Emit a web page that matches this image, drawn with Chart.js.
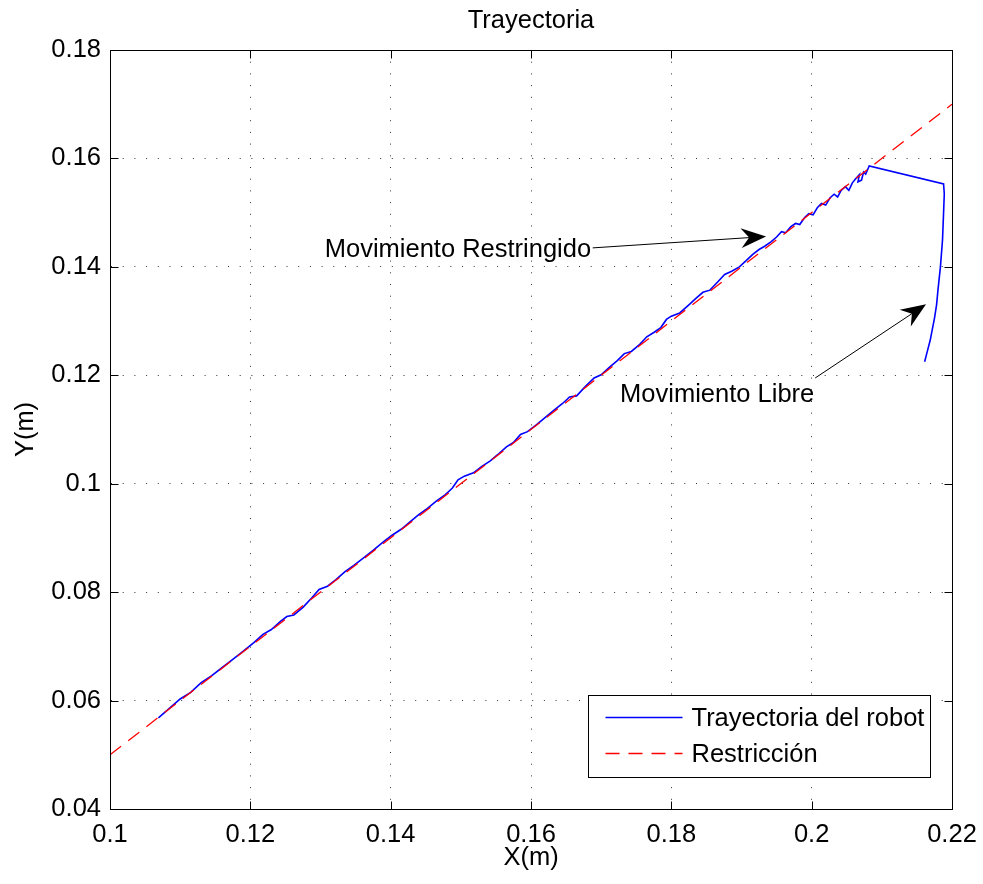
<!DOCTYPE html>
<html>
<head>
<meta charset="utf-8">
<script src="https://cdn.jsdelivr.net/npm/chart.js@4/dist/chart.umd.min.js"></script>
<style>
  html, body { margin: 0; padding: 0; background: #fff; }
  #wrap { width: 983px; height: 884px; }
</style>
</head>
<body>
<div id="wrap"><canvas id="c" width="983" height="884"></canvas></div>
<script>
// Trayectoria del robot
const robotX = [
  0.1069, 0.1085, 0.1100, 0.1115, 0.1130, 0.1145, 0.1160, 0.1175, 0.1190, 0.1205,
  0.1218, 0.1230, 0.1243, 0.1252, 0.1262, 0.1275, 0.1288, 0.1298, 0.1310, 0.1322,
  0.1335, 0.1348, 0.1360, 0.1375, 0.1390, 0.1402, 0.1415, 0.1428, 0.1440, 0.1452,
  0.1465, 0.1478, 0.1488, 0.1496, 0.1505, 0.1518, 0.1530, 0.1542, 0.1552, 0.1565,
  0.1575, 0.1585, 0.1595, 0.1608, 0.1620, 0.1632, 0.1645, 0.1655, 0.1665, 0.1678,
  0.1690, 0.1700, 0.1712, 0.1723, 0.1733, 0.1743, 0.1755, 0.1765, 0.1775, 0.1785,
  0.1793, 0.1800, 0.1812, 0.1825, 0.1835, 0.1845, 0.1855, 0.1866, 0.1876, 0.1886,
  0.1897, 0.1907, 0.1916, 0.1925, 0.1933, 0.1942, 0.1950, 0.1957, 0.1963, 0.1970,
  0.1977, 0.1983, 0.1990, 0.1996, 0.2002, 0.2008, 0.2014, 0.2020, 0.2026, 0.2032,
  0.2037, 0.2042, 0.2048, 0.2053, 0.2058, 0.2063, 0.2068, 0.2066, 0.2071, 0.2074,
  0.2077, 0.2080, 0.2082,
  0.2188, 0.2189, 0.2188, 0.21865, 0.21835, 0.2180, 0.2178, 0.2175, 0.2172, 0.2169, 0.2165, 0.2161
];
const robotY = [
  0.0568, 0.0586, 0.0603, 0.0615, 0.0633, 0.0646, 0.0661, 0.0676, 0.0691, 0.0707,
  0.0722, 0.0731, 0.0746, 0.0755, 0.0758, 0.0772, 0.0790, 0.0805, 0.0811, 0.0823,
  0.0838, 0.0850, 0.0862, 0.0877, 0.0893, 0.0905, 0.0916, 0.0930, 0.0943, 0.0954,
  0.0968, 0.0980, 0.0992, 0.1007, 0.1014, 0.1020, 0.1032, 0.1042, 0.1053, 0.1068,
  0.1076, 0.1091, 0.1096, 0.1109, 0.1122, 0.1135, 0.1148, 0.1160, 0.1162, 0.1180,
  0.1195, 0.1201, 0.1215, 0.1227, 0.1240, 0.1244, 0.1257, 0.1271, 0.1279, 0.1288,
  0.1303, 0.1309, 0.1315, 0.1330, 0.1342, 0.1353, 0.1357, 0.1372, 0.1386, 0.1392,
  0.1400, 0.1412, 0.1423, 0.1432, 0.1438, 0.1446, 0.1455, 0.1465, 0.1463, 0.1474,
  0.1480, 0.1478, 0.1491, 0.1498, 0.1496, 0.1509, 0.1517, 0.1514, 0.1527, 0.1534,
  0.1529, 0.1541, 0.1548, 0.1541, 0.1555, 0.1563, 0.1570, 0.1557, 0.1560, 0.1575,
  0.1571, 0.1580, 0.1586,
  0.1553, 0.1535, 0.1500, 0.1450, 0.1400, 0.1357, 0.1330, 0.1305, 0.1285, 0.1265, 0.1245, 0.1225
];

// Restriccion: recta y = x - 0.05
const limitX = [0.1, 0.22];
const limitY = [0.05, 0.17];

const xTicks = [0.1, 0.12, 0.14, 0.16, 0.18, 0.2, 0.22];
const xTickLabels = ['0.1', '0.12', '0.14', '0.16', '0.18', '0.2', '0.22'];
const yTicks = [0.04, 0.06, 0.08, 0.1, 0.12, 0.14, 0.16, 0.18];
const yTickLabels = ['0.04', '0.06', '0.08', '0.1', '0.12', '0.14', '0.16', '0.18'];

// annotations (text baseline start + arrow from/to, data units)
const noteTexts = ['Movimiento Restringido', 'Movimiento Libre'];
const noteX = [0.1306, 0.1727];
const noteY = [0.1419, 0.1151];
const arrowFromX = [0.1688, 0.2005];
const arrowFromY = [0.1435, 0.1195];
const arrowToX = [0.1935, 0.2163];
const arrowToY = [0.1456, 0.1331];

const FONT = "'Liberation Sans', Arial, Helvetica, sans-serif";
const FSIZE = 25.5;
Chart.defaults.font.family = FONT;
Chart.defaults.font.size = FSIZE;
Chart.defaults.color = '#000';

function toPoints(xs, ys) { return xs.map((v, i) => ({ x: v, y: ys[i] })); }

function drawArrow(ctx, x0, y0, x1, y1) {
  const ang = Math.atan2(y1 - y0, x1 - x0);
  const L = 25, hw = 10, notch = 17;
  const ux = Math.cos(ang), uy = Math.sin(ang);
  const bx = x1 - ux * L, by = y1 - uy * L;
  ctx.beginPath();
  ctx.moveTo(x0, y0);
  ctx.lineTo(x1 - ux * notch, y1 - uy * notch);
  ctx.stroke();
  ctx.beginPath();
  ctx.moveTo(x1, y1);
  ctx.lineTo(bx - uy * hw, by + ux * hw);
  ctx.lineTo(x1 - ux * notch, y1 - uy * notch);
  ctx.lineTo(bx + uy * hw, by - ux * hw);
  ctx.closePath();
  ctx.fill();
}

const matlabPlugin = {
  id: 'matlab',
  afterDraw(chart) {
    const { ctx, chartArea: a, scales: { x, y } } = chart;
    ctx.save();
    ctx.strokeStyle = '#000';
    ctx.fillStyle = '#000';
    ctx.lineWidth = 1;
    ctx.setLineDash([]);

    // title over the axes
    ctx.font = FSIZE + 'px ' + FONT;
    ctx.textAlign = 'center';
    ctx.textBaseline = 'middle';
    ctx.fillText('Trayectoria', (a.left + a.right) / 2, 21);

    // inward ticks on all four sides
    const l = Math.round(a.left) + 0.5, r = Math.round(a.right) + 0.5;
    const t = Math.round(a.top) + 0.5, b = Math.round(a.bottom) + 0.5;
    ctx.beginPath();
    xTicks.forEach(v => {
      const px = Math.round(x.getPixelForValue(v)) + 0.5;
      ctx.moveTo(px, b); ctx.lineTo(px, b - 8);
      ctx.moveTo(px, t); ctx.lineTo(px, t + 8);
    });
    yTicks.forEach(v => {
      const py = Math.round(y.getPixelForValue(v)) + 0.5;
      ctx.moveTo(l, py); ctx.lineTo(l + 8, py);
      ctx.moveTo(r, py); ctx.lineTo(r - 8, py);
    });
    ctx.stroke();
    ctx.strokeRect(l, t, r - l, b - t);

    // annotations
    ctx.textAlign = 'left';
    ctx.textBaseline = 'alphabetic';
    noteTexts.forEach((txt, i) => {
      ctx.fillText(txt, x.getPixelForValue(noteX[i]), y.getPixelForValue(noteY[i]));
      drawArrow(ctx,
        x.getPixelForValue(arrowFromX[i]), y.getPixelForValue(arrowFromY[i]),
        x.getPixelForValue(arrowToX[i]), y.getPixelForValue(arrowToY[i]));
    });

    // legend box, bottom right inside the axes
    const ds = chart.data.datasets;
    const tw = Math.max(...ds.map(d => ctx.measureText(d.label).width));
    const w = Math.round(103 + tw + 6), h = 82;
    const lx = Math.round(a.right - 22 - w) + 0.5, ly = Math.round(a.bottom - 32 - h) + 0.5;
    ctx.fillStyle = '#fff';
    ctx.fillRect(lx, ly, w, h);
    ctx.strokeStyle = '#000';
    ctx.strokeRect(lx, ly, w, h);
    ds.forEach((d, i) => {
      const cy = ly + 22 + i * 36;
      ctx.strokeStyle = d.borderColor;
      ctx.lineWidth = d.borderWidth;
      ctx.setLineDash(d.borderDash || []);
      ctx.beginPath();
      ctx.moveTo(lx + 17, cy); ctx.lineTo(lx + 94, cy);
      ctx.stroke();
      ctx.setLineDash([]);
      ctx.fillStyle = '#000';
      ctx.textBaseline = 'middle';
      ctx.fillText(d.label, lx + 103, cy + 1);
    });
    ctx.restore();
  }
};

new Chart(document.getElementById('c'), {
  type: 'scatter',
  data: {
    datasets: [
      {
        label: 'Trayectoria del robot',
        data: toPoints(robotX, robotY),
        showLine: true,
        borderColor: '#0000ff',
        borderWidth: 1.6,
        pointRadius: 0,
        tension: 0,
        order: 1
      },
      {
        label: 'Restricción',
        data: toPoints(limitX, limitY),
        showLine: true,
        borderColor: '#ff0000',
        borderWidth: 1.3,
        borderDash: [14, 9],
        pointRadius: 0,
        order: 0
      }
    ]
  },
  options: {
    responsive: false,
    devicePixelRatio: 1,
    animation: false,
    layout: { padding: { left: 0, right: 31, top: 50, bottom: 0 } },
    plugins: {
      legend: { display: false },
      tooltip: { enabled: false },
      title: { display: false }
    },
    scales: {
      x: {
        type: 'linear',
        min: 0.1, max: 0.22,
        afterBuildTicks: s => { s.ticks = xTicks.map(v => ({ value: v })); },
        afterFit: s => { s.height = 75; s.paddingLeft = 0; s.paddingRight = 0; },
        ticks: { callback: (v, i) => xTickLabels[i], padding: 11, maxRotation: 0 },
        grid: { color: 'rgba(0,0,0,0.8)', lineWidth: 1, drawTicks: false, borderDash: [1, 10.7] },
        border: { display: true, color: '#000', dash: [1, 10.7] },
        title: { display: true, text: 'X(m)', padding: { top: 0, bottom: 11 } }
      },
      y: {
        type: 'linear',
        min: 0.04, max: 0.18,
        afterBuildTicks: s => { s.ticks = yTicks.map(v => ({ value: v })); },
        afterFit: s => { s.width = 110; s.paddingTop = 0; s.paddingBottom = 0; },
        ticks: { callback: (v, i) => yTickLabels[i], padding: 9 },
        grid: { color: 'rgba(0,0,0,0.8)', lineWidth: 1, drawTicks: false, borderDash: [1, 10.7] },
        border: { display: true, color: '#000', dash: [1, 10.7] },
        title: { display: true, text: 'Y(m)', padding: { top: 11, bottom: 0 } }
      }
    }
  },
  plugins: [matlabPlugin]
});
</script>
</body>
</html>
